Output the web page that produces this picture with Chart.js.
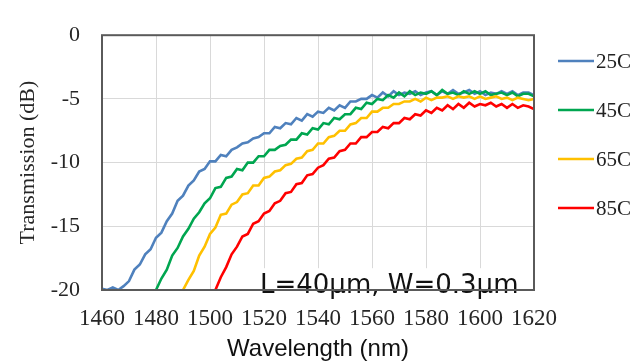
<!DOCTYPE html>
<html><head><meta charset="utf-8">
<script src="https://cdn.jsdelivr.net/npm/chart.js@4/dist/chart.umd.min.js"></script>
<style>html,body{margin:0;padding:0;background:#fff}#wrap{width:640px;height:364px}</style>
</head><body><div id="wrap"><canvas id="c" width="640" height="364"></canvas></div>
<script>
const wavelengths = [
  1460,1462,1464,1466,1468,1470,1472,1474,1476,1478,
  1480,1482,1484,1486,1488,1490,1492,1494,1496,1498,
  1500,1502,1504,1506,1508,1510,1512,1514,1516,1518,
  1520,1522,1524,1526,1528,1530,1532,1534,1536,1538,
  1540,1542,1544,1546,1548,1550,1552,1554,1556,1558,
  1560,1562,1564,1566,1568,1570,1572,1574,1576,1578,
  1580,1582,1584,1586,1588,1590,1592,1594,1596,1598,
  1600,1602,1604,1606,1608,1610,1612,1614,1616,1618,
  1620];

const t25 = [
  -19.9,-20.0,-19.8,-20.0,-19.7,-19.3,-18.4,-18.0,-17.2,-16.8,
  -15.9,-15.5,-14.6,-14.0,-13.0,-12.6,-11.8,-11.4,-10.7,-10.5,
  -9.9,-9.9,-9.4,-9.5,-9.0,-8.8,-8.5,-8.4,-8.1,-8.0,
  -7.7,-7.7,-7.2,-7.3,-6.9,-7.0,-6.5,-6.7,-6.2,-6.4,
  -6.0,-6.1,-5.7,-5.9,-5.5,-5.7,-5.2,-5.2,-5.0,-5.0,
  -4.7,-4.9,-4.5,-4.8,-4.4,-4.7,-4.5,-4.6,-4.4,-4.7,
  -4.5,-4.4,-4.7,-4.4,-4.6,-4.3,-4.6,-4.5,-4.3,-4.6,
  -4.4,-4.7,-4.5,-4.6,-4.4,-4.6,-4.4,-4.7,-4.5,-4.5,
  -4.7];

const t45 = [
  null,null,null,null,null,null,null,null,null,null,
  -20.0,-19.1,-18.4,-17.3,-16.7,-15.8,-15.2,-14.4,-13.9,-13.2,
  -12.8,-12.0,-11.9,-11.2,-11.1,-10.5,-10.6,-10.0,-10.0,-9.5,
  -9.5,-9.0,-9.0,-8.7,-8.6,-8.2,-8.2,-7.7,-7.8,-7.3,
  -7.4,-6.9,-7.0,-6.5,-6.6,-6.2,-6.2,-5.7,-5.8,-5.3,
  -5.4,-5.0,-5.1,-4.7,-4.9,-4.5,-4.8,-4.4,-4.7,-4.5,
  -4.6,-4.4,-4.7,-4.3,-4.6,-4.5,-4.7,-4.4,-4.6,-4.4,
  -4.6,-4.4,-4.7,-4.6,-4.5,-4.7,-4.5,-4.8,-4.6,-4.6,
  -4.8];

const t65 = [
  null,null,null,null,null,null,null,null,null,null,
  null,null,null,null,null,-20.0,-19.2,-18.5,-17.3,-16.6,
  -15.6,-15.1,-14.1,-14.0,-13.3,-13.1,-12.5,-12.4,-11.8,-11.8,
  -11.2,-11.1,-10.7,-10.6,-10.2,-10.1,-9.7,-9.6,-9.1,-9.0,
  -8.5,-8.5,-8.0,-7.9,-7.5,-7.5,-7.0,-6.9,-6.5,-6.5,
  -6.0,-6.0,-5.7,-5.7,-5.4,-5.4,-5.2,-5.2,-5.0,-5.2,
  -4.9,-5.1,-4.9,-4.9,-4.8,-5.0,-4.8,-4.9,-4.8,-5.0,
  -4.8,-5.0,-4.9,-4.8,-5.0,-4.9,-5.1,-4.9,-5.0,-5.1,
  -5.0];

const t85 = [
  null,null,null,null,null,null,null,null,null,null,
  null,null,null,null,null,null,null,null,null,null,
  null,-20.0,-19.0,-18.2,-17.2,-16.6,-15.8,-15.6,-14.8,-14.6,
  -14.0,-13.8,-13.2,-13.0,-12.4,-12.3,-11.7,-11.6,-11.0,-10.9,
  -10.4,-10.2,-9.7,-9.6,-9.1,-9.0,-8.5,-8.5,-8.0,-8.0,
  -7.6,-7.6,-7.2,-7.3,-6.9,-6.9,-6.5,-6.6,-6.2,-6.3,
  -5.9,-6.1,-5.7,-5.9,-5.5,-5.8,-5.4,-5.7,-5.3,-5.6,
  -5.4,-5.5,-5.3,-5.6,-5.4,-5.7,-5.4,-5.7,-5.5,-5.6,
  -5.8];

const seriesLabels = ['25C','45C','65C','85C'];
const seriesValues = [t25, t45, t65, t85];
const seriesColors = ['#4f81bd','#00a650','#ffc000','#ff0000'];
const xTicks = [1460,1480,1500,1520,1540,1560,1580,1600,1620];
const yTicks = [0,-5,-10,-15,-20];
const annotationText = 'L=40\u03bcm, W=0.3\u03bcm';

function toPoints(vals){
  const pts = [];
  wavelengths.forEach((w,i)=>{ if(vals[i]!==null) pts.push({x:w,y:vals[i]}); });
  return pts;
}

const datasets = seriesLabels.map((lab,i)=>({
  label: lab,
  data: toPoints(seriesValues[i]),
  borderColor: seriesColors[i],
  backgroundColor: seriesColors[i],
  borderWidth: 2.6,
  pointRadius: 0,
  tension: 0,
  fill: false,
  order: seriesLabels.length - i
}));

const decor = {
  id: 'decor',
  beforeDatasetsDraw(chart){
    const ctx = chart.ctx, a = chart.chartArea;
    ctx.save();
    ctx.fillStyle = '#ffffff';
    ctx.fillRect(a.left + 153, a.top + 233, 274, 35);
    ctx.fillStyle = '#111111';
    ctx.font = '26px "DejaVu Sans"';
    ctx.textBaseline = 'alphabetic';
    ctx.textAlign = 'left';
    ctx.fillText(annotationText, a.left + 158, a.top + 258);
    ctx.restore();
  },
  afterDatasetsDraw(chart){
    const ctx = chart.ctx, a = chart.chartArea;
    ctx.save();
    ctx.strokeStyle = '#5a5a5a';
    ctx.lineWidth = 2;
    ctx.strokeRect(a.left, a.top, a.right - a.left, a.bottom - a.top);
    ctx.restore();
  },
  afterDraw(chart){
    const ctx = chart.ctx;
    const ys = [61, 110, 159, 208];
    ctx.save();
    chart.data.datasets.forEach((ds,i)=>{
      ctx.strokeStyle = ds.borderColor;
      ctx.lineWidth = 2.4;
      ctx.beginPath();
      ctx.moveTo(558, ys[i]);
      ctx.lineTo(594, ys[i]);
      ctx.stroke();
      ctx.fillStyle = '#222';
      ctx.font = '21px "Liberation Serif"';
      ctx.textBaseline = 'middle';
      ctx.textAlign = 'left';
      ctx.fillText(ds.label, 596, ys[i] + 1);
    });
    ctx.restore();
  }
};

new Chart(document.getElementById('c'), {
  type: 'line',
  data: { datasets },
  plugins: [decor],
  options: {
    responsive: false,
    animation: false,
    devicePixelRatio: 1,
    layout: { padding: { top: 15, right: 106, left: 0, bottom: 0 } },
    plugins: { legend: { display: false }, tooltip: { enabled: false } },
    scales: {
      x: {
        type: 'linear', min: 1460, max: 1620,
        afterBuildTicks: s => { s.ticks = xTicks.map(v => ({ value: v })); },
        afterFit: s => { s.height = 74; },
        ticks: { callback: v => String(v), autoSkip: false, maxRotation: 0,
          font: { family: 'Liberation Serif', size: 23 }, color: '#262626', padding: 15 },
        grid: { color: '#d9d9d9', lineWidth: 1, drawTicks: false },
        border: { display: false },
        title: { display: true, text: 'Wavelength (nm)',
          font: { family: 'Liberation Sans', size: 24 }, color: '#111', padding: { top: 0, bottom: 0 } }
      },
      y: {
        type: 'linear', min: -20, max: 0,
        afterBuildTicks: s => { s.ticks = yTicks.map(v => ({ value: v })); },
        afterFit: s => { s.width = 102; },
        ticks: { callback: v => String(v),
          font: { family: 'Liberation Serif', size: 22 }, color: '#262626', padding: 22 },
        grid: { color: '#d9d9d9', lineWidth: 1, drawTicks: false },
        border: { display: false },
        title: { display: true, text: 'Transmission (dB)',
          font: { family: 'Liberation Serif', size: 22 }, color: '#262626', padding: { top: 15, bottom: 0 } }
      }
    }
  }
});
</script></body></html>
